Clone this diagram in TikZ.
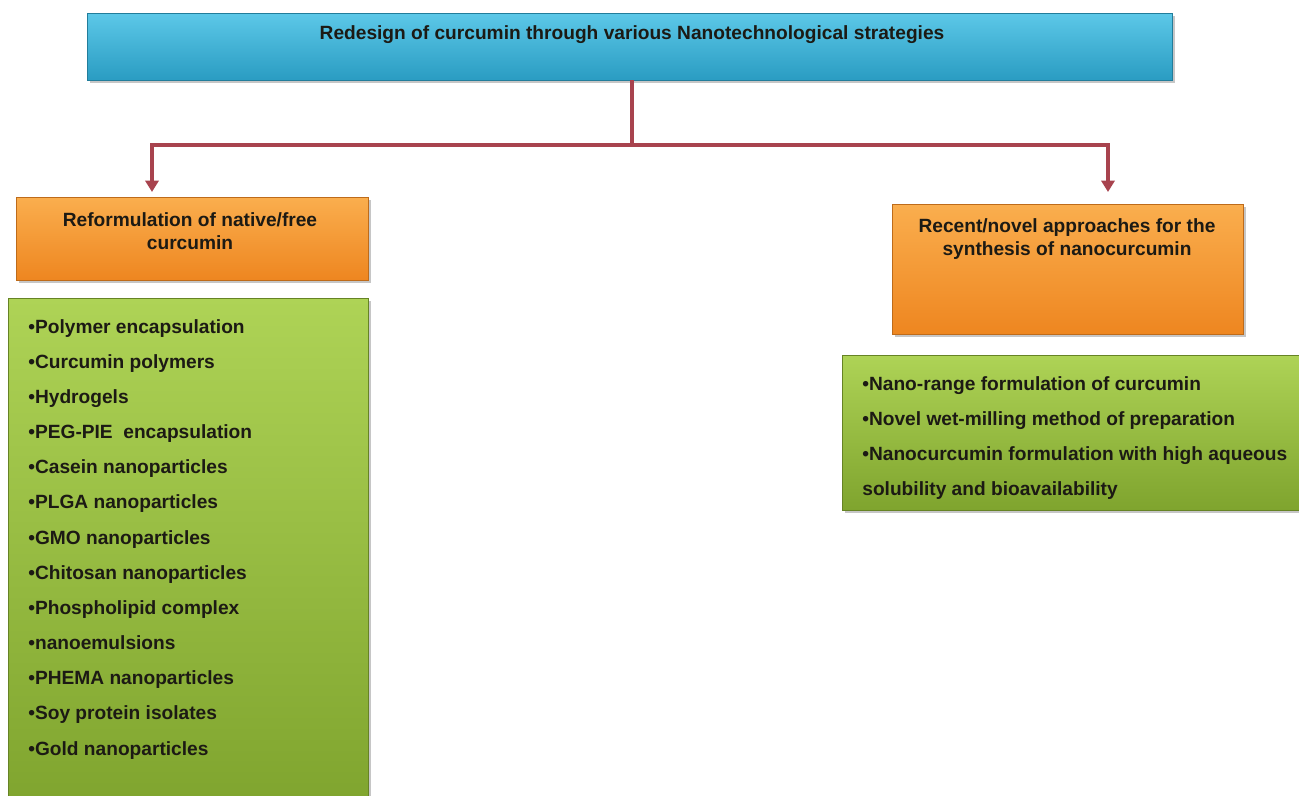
\documentclass[tikz,border=0pt]{standalone}
\usepackage{fontspec}
\setmainfont{Liberation Sans}
\usetikzlibrary{arrows.meta}
\usetikzlibrary{shadows}
\definecolor{cyantop}{HTML}{5CC8E8}
\definecolor{cyanbot}{HTML}{2A9CC2}
\definecolor{orangetop}{HTML}{FAAE4E}
\definecolor{orangebot}{HTML}{EE8620}
\definecolor{greentop}{HTML}{AED356}
\definecolor{greenbot}{HTML}{7FA42E}
\definecolor{linkred}{HTML}{A8434E}
\definecolor{inkdark}{HTML}{1C1A14}
\tikzset{
  panel/.style={rectangle, inner sep=0pt, line width=0.3pt,
    drop shadow={shadow xshift=1.5pt, shadow yshift=-1.5pt, opacity=0.45}},
  titlebox/.style={panel, top color=cyantop, bottom color=cyanbot, draw=cyanbot!80!black},
  headbox/.style={panel, top color=orangetop, bottom color=orangebot, draw=orangebot!80!black},
  listbox/.style={panel, top color=greentop, bottom color=greenbot, draw=greenbot!80!black},
  boxtext/.style={inner sep=0pt, text=inkdark, font=\bfseries\fontsize{10.9}{13}\selectfont},
  link/.style={draw=linkred, line width=2pt},
  linkarrow/.style={link, -{Triangle[width=7.5pt,length=6.5pt]}},
}
\newcommand{\panelbox}[6]{\node[#2, minimum width={(#5-#3)*0.02cm}, minimum height={(#6-#4)*0.02cm}] (#1) at ({(#3+#5)/2},{(#4+#6)/2}) {};}
\newcommand{\itemline}[4]{\node[boxtext, anchor=base west] (#1) at (#2,#3) {#4};}

\begin{document}
\begin{tikzpicture}[x=0.02cm, y=-0.02cm]
        \useasboundingbox (0,0) rectangle (1299,795);
        % boxes
        \panelbox{title}{titlebox}{87}{13}{1172}{80}
        \panelbox{lefthead}{headbox}{16}{197}{368}{280}
        \panelbox{leftlist}{listbox}{8}{298}{368}{810}
        \panelbox{righthead}{headbox}{892}{204}{1243}{334}
        \panelbox{rightlist}{listbox}{842}{355}{1310}{510}

        % heading texts
        \node[boxtext, anchor=base] (titletext) at (632,39) {Redesign of curcumin through various Nanotechnological strategies};
        \node[boxtext, anchor=north, align=center] (leftheadtext) at (190,212) {Reformulation of native/free\\curcumin};
        \node[boxtext, anchor=north, align=center] (rightheadtext) at (1067,218) {Recent/novel approaches for the\\synthesis of nanocurcumin};

        % connectors
        \coordinate (split) at (632,145);
        \coordinate (lefttip) at (152,192);
        \coordinate (righttip) at (1108,192);
        \draw[link] (split |- title.south) -- (split);
        \draw[linkarrow] (split) -| (lefttip);
        \draw[linkarrow] (split) -| (righttip);

        % left list
        \itemline{l1}{28}{333}{•Polymer encapsulation}
        \itemline{l2}{28}{368.2}{•Curcumin polymers}
        \itemline{l3}{28}{403.3}{•Hydrogels}
        \itemline{l4}{28}{438.5}{•PEG-PIE\ \ encapsulation}
        \itemline{l5}{28}{473.7}{•Casein nanoparticles}
        \itemline{l6}{28}{508.8}{•PLGA nanoparticles}
        \itemline{l7}{28}{544}{•GMO nanoparticles}
        \itemline{l8}{28}{579.2}{•Chitosan nanoparticles}
        \itemline{l9}{28}{614.3}{•Phospholipid complex}
        \itemline{l10}{28}{649.5}{•nanoemulsions}
        \itemline{l11}{28}{684.7}{•PHEMA nanoparticles}
        \itemline{l12}{28}{719.8}{•Soy protein isolates}
        \itemline{l13}{28}{755}{•Gold nanoparticles}

        % right list
        \itemline{r1}{862}{390}{•Nano-range formulation of curcumin}
        \itemline{r2}{862}{425}{•Novel wet-milling method of preparation}
        \itemline{r3}{862}{460}{•Nanocurcumin formulation with high aqueous}
        \itemline{r4}{862}{495}{solubility and bioavailability}

    \end{tikzpicture}
\end{document}
